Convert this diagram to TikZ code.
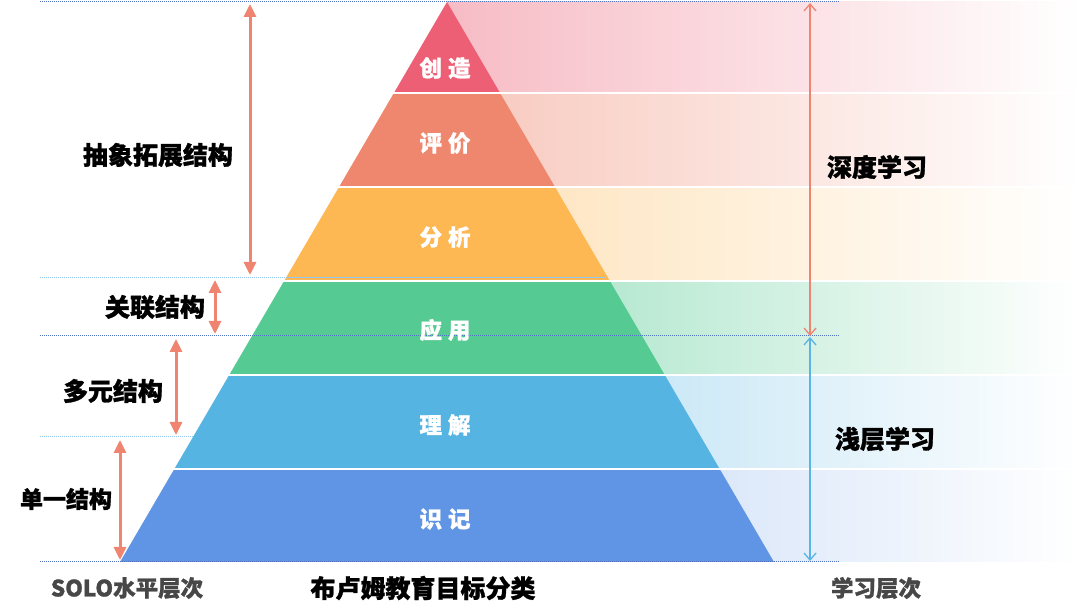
\documentclass[tikz,border=0pt]{standalone}
\usepackage{fontspec}
\setmainfont{Noto Sans CJK SC}[BoldFeatures={FakeBold=1.2}]
\usetikzlibrary{shapes,arrows,arrows.meta}
\usetikzlibrary{positioning}

\definecolor{create}{HTML}{EC5F75}
\definecolor{evaluate}{HTML}{EF876E}
\definecolor{analyse}{HTML}{FDB753}
\definecolor{apply}{HTML}{55CA92}
\definecolor{understand}{HTML}{56B4E3}
\definecolor{remember}{HTML}{5F95E4}
\definecolor{salmon}{HTML}{EF8470}
\definecolor{skyline}{HTML}{5AB4E6}
\definecolor{guidelight}{HTML}{8CC4EE}
\definecolor{guidedark}{HTML}{5073C2}

\tikzset{
    lbl/.style={font=\bfseries\fontsize{25}{30}\selectfont, inner sep=0pt},
    bandlbl/.style={lbl, white, font=\bfseries\fontsize{22.5}{26}\selectfont},
    grey/.style={lbl, text=black!72, font=\bfseries\fontsize{22.5}{26}\selectfont},
    guide/.style={line width=1pt, dash pattern=on 1pt off 1pt},
    solo/.style={salmon, line width=3pt,
        {Triangle[width=12pt,length=13pt]}-{Triangle[width=12pt,length=13pt]}},
    depth/.style={line width=1.3pt,
        {Straight Barb[width=12pt,length=7pt]}-{Straight Barb[width=12pt,length=7pt]}},
    sep/.style={white, line width=2.5pt}
}

\begin{document}
\begin{tikzpicture}[x=1pt,y=-1pt]
    \useasboundingbox (0,0) rectangle (1080,609);
    % fading bands on the right
    \shade[left color=create!42, middle color=create!9, right color=white] (447,2) rectangle (1080,93);
    \shade[left color=evaluate!42, middle color=evaluate!9, right color=white] (500,93) rectangle (1080,187);
    \shade[left color=analyse!34, middle color=analyse!8, right color=white] (555,187) rectangle (1080,281);
    \shade[left color=apply!42, middle color=apply!10, right color=white] (610,281) rectangle (1080,375);
    \shade[left color=understand!30, middle color=understand!9, right color=white] (665,375) rectangle (1080,469);
    \shade[left color=remember!22, middle color=remember!8, right color=white] (720,469) rectangle (1080,562);
    % the pyramid
    \fill[create] (447,2) -- (500.1,93) -- (393.9,93) -- cycle;
    \fill[evaluate] (393.9,93) -- (500.1,93) -- (555,187) -- (339,187) -- cycle;
    \fill[analyse] (339,187) -- (555,187) -- (609.9,281) -- (284.1,281) -- cycle;
    \fill[apply] (284.1,281) -- (609.9,281) -- (664.8,375) -- (229.2,375) -- cycle;
    \fill[understand] (229.2,375) -- (664.8,375) -- (719.7,469) -- (174.3,469) -- cycle;
    \fill[remember] (174.3,469) -- (719.7,469) -- (774,562) -- (120,562) -- cycle;
    \draw[sep] (390,93) -- (1080,93);
    \draw[sep] (335,187) -- (1080,187);
    \draw[sep] (280,281) -- (1080,281);
    \draw[sep] (225,375) -- (1080,375);
    \draw[sep] (170,469) -- (1080,469);
    % dotted guide lines
    \draw[guide, guidedark] (40,2) -- (840,2);
    \draw[guide, guidelight] (40,278) -- (605,278);
    \draw[guide, guidedark] (40,336) -- (840,336);
    \draw[guide, guidelight] (40,437) -- (193,437);
    \draw[guide, guidedark] (40,562) -- (840,562);

    \node[bandlbl] (create) at (445,68) {创\hspace{6pt}造};
    \node[bandlbl] (evaluate) at (445,143) {评\hspace{6pt}价};
    \node[bandlbl] (analyse) at (445,237) {分\hspace{6pt}析};
    \node[bandlbl] (apply) at (445,330) {应\hspace{6pt}用};
    \node[bandlbl] (understand) at (445,425) {理\hspace{6pt}解};
    \node[bandlbl] (remember) at (445,519) {识\hspace{6pt}记};

    % SOLO levels
    \coordinate (abs top) at (250,4);
    \coordinate (abs bot) at (250,275);
    \coordinate (rel top) at (215,280);
    \coordinate (rel bot) at (215,334);
    \coordinate (multi top) at (176,339);
    \coordinate (multi bot) at (176,435);
    \coordinate (uni top) at (120,440);
    \coordinate (uni bot) at (120,560);
    \draw[solo] (abs top) -- (abs bot);
    \draw[solo] (rel top) -- (rel bot);
    \draw[solo] (multi top) -- (multi bot);
    \draw[solo] (uni top) -- (uni bot);
    \node[lbl] (abstract) at (158,155) {抽象拓展结构};
    \node[lbl] (relational) at (155,307) {关联结构};
    \node[lbl] (multi) at (113,391) {多元结构};
    \node[lbl, font=\bfseries\fontsize{23}{28}\selectfont] (uni) at (66,499) {单一结构};

    % learning depth
    \coordinate (deep top) at (810,3);
    \coordinate (deep bot) at (810,336);
    \coordinate (surf top) at (810,337);
    \coordinate (surf bot) at (810,561);
    \draw[depth, salmon] (deep top) -- (deep bot);
    \draw[depth, skyline] (surf top) -- (surf bot);
    \node[lbl] (deep) at (877,167) {深度学习};
    \node[lbl] (surface) at (885,439) {浅层学习};

    % captions
    \node[grey] (solo cap) at (127,588) {SOLO水平层次};
    \node[lbl] (bloom cap) at (423,588) {布卢姆教育目标分类};
    \node[grey] (depth cap) at (876,588) {学习层次};
\end{tikzpicture}
\end{document}
